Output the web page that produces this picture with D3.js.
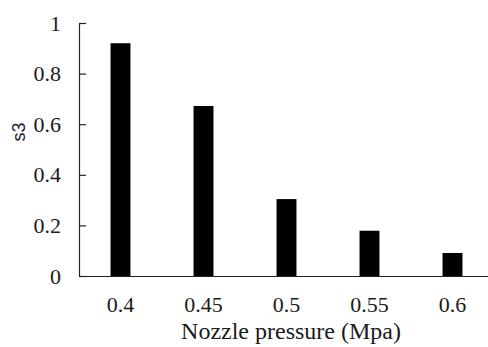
<!DOCTYPE html>
<html>
<head>
<meta charset="utf-8">
<script src="https://cdn.jsdelivr.net/npm/d3@7"></script>
<style>
  body { margin: 0; background: #fff; }
</style>
</head>
<body>
<div id="chart"></div>
<script>
// data
const pressures = ["0.4", "0.45", "0.5", "0.55", "0.6"];
const s3Values = [0.92, 0.672, 0.304, 0.179, 0.091];
const yTicks = [0, 0.2, 0.4, 0.6, 0.8, 1];

const width = 488, height = 347;
const plotLeft = 79, plotRight = 494, plotTop = 23, plotBottom = 276;
const serif = "'Liberation Serif', 'DejaVu Serif', serif";

const svg = d3.select("#chart").append("svg")
  .attr("width", width)
  .attr("height", height);

const x = d3.scaleBand()
  .domain(pressures)
  .range([plotLeft, plotRight])
  .paddingInner(0.76)
  .paddingOuter(0.38);

const y = d3.scaleLinear()
  .domain([0, 1])
  .range([plotBottom, plotTop]);

// bars
svg.selectAll("rect.bar")
  .data(pressures)
  .enter()
  .append("rect")
  .attr("class", "bar")
  .attr("x", d => x(d))
  .attr("y", (d, i) => y(s3Values[i]))
  .attr("width", x.bandwidth())
  .attr("height", (d, i) => plotBottom - y(s3Values[i]))
  .attr("fill", "#000");

// y axis, ticks pointing inward
const yAxis = svg.append("g")
  .attr("transform", "translate(" + plotLeft + ",0)")
  .call(d3.axisLeft(y).tickValues(yTicks).tickFormat(d3.format("")).tickSizeInner(-7).tickSizeOuter(0).tickPadding(18));
yAxis.attr("font-family", serif).attr("font-size", 22);
yAxis.selectAll("path, line").attr("stroke", "#222").attr("stroke-width", 1.2);
yAxis.selectAll("text").attr("fill", "#1a1a1a");

// x axis
const xAxis = svg.append("g")
  .attr("transform", "translate(0," + plotBottom + ")")
  .call(d3.axisBottom(x).tickSize(0).tickPadding(20));
xAxis.attr("font-family", serif).attr("font-size", 22);
xAxis.select(".domain").attr("stroke", "#222").attr("stroke-width", 1.2);
xAxis.selectAll("text").attr("fill", "#1a1a1a");

// axis titles
svg.append("text")
  .attr("x", 291)
  .attr("y", 339)
  .attr("text-anchor", "middle")
  .attr("font-family", serif)
  .attr("font-size", 24)
  .attr("fill", "#1a1a1a")
  .text("Nozzle pressure (Mpa)");

svg.append("text")
  .attr("transform", "translate(25,132) rotate(-90)")
  .attr("text-anchor", "middle")
  .attr("font-family", "'Liberation Sans', sans-serif")
  .attr("font-size", 18)
  .attr("fill", "#1a1a2a")
  .text("s3");
</script>
</body>
</html>
